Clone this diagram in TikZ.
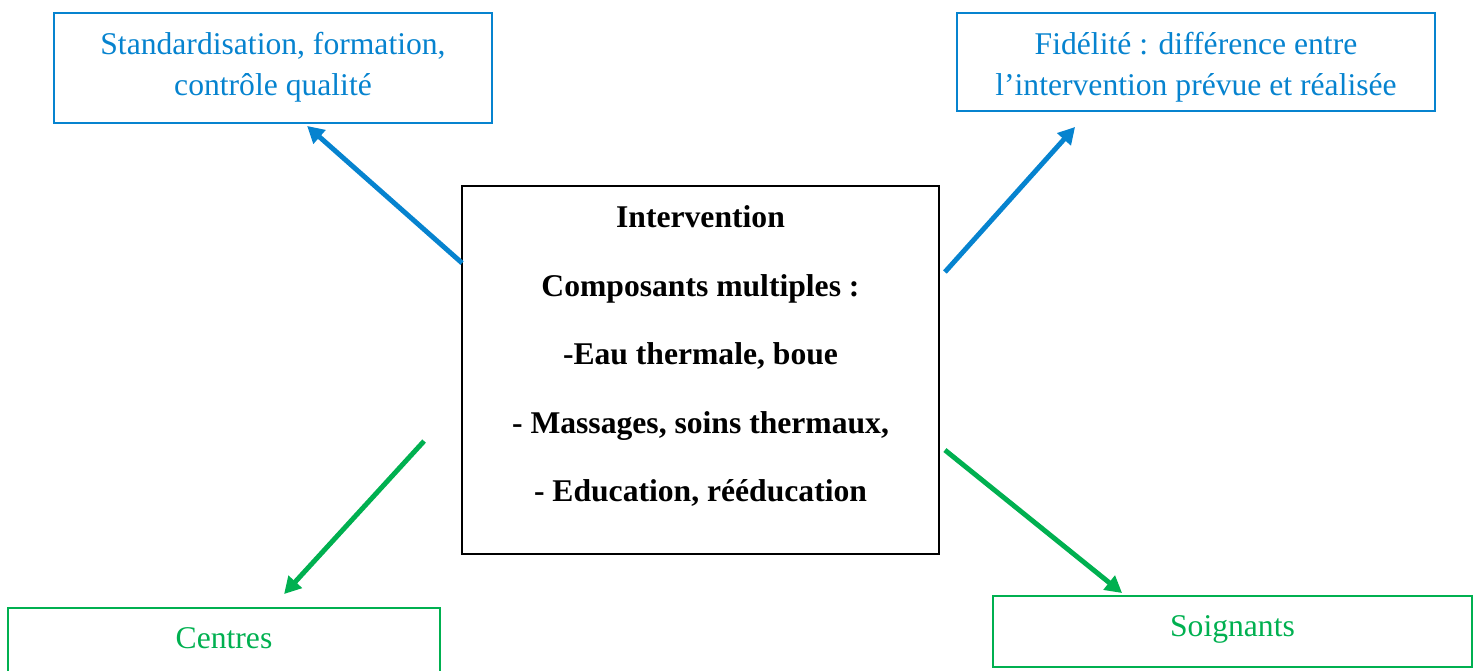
\documentclass[tikz,border=0pt]{standalone}
\usepackage{fontspec}
\setmainfont{Liberation Serif}
\usetikzlibrary{arrows.meta}
\definecolor{bleu}{HTML}{0683CF}
\definecolor{vert}{HTML}{00B050}
\tikzset{
	boite/.style={draw=#1, line width=1.1pt, inner sep=0pt},
	texte/.style={align=center, inner sep=0pt, text=#1, font=\fontsize{18}{23.2}\selectfont},
	fleche/.style={draw=#1, line width=2.8pt, -{Triangle[length=9.5pt,width=10pt]}}
}

\begin{document}
\begin{tikzpicture}[x=0.02cm, y=-0.02cm]
	\clip (0,0) rectangle (1480,671);
	% boites du haut
	\node[boite=bleu, minimum width=8.76cm, minimum height=2.2cm] (std) at (273,68) {};
	\node[texte=bleu] (stdtxt) at (273,67.5) {Standardisation, formation,\\contrôle qualité};
	\node[boite=bleu, minimum width=9.56cm, minimum height=1.96cm] (fid) at (1196,62) {};
	\node[texte=bleu] (fidtxt) at (1196,67.5) {Fidélité : différence entre\\l’intervention prévue et réalisée};
	% intervention
	\node[boite=black, minimum width=9.54cm, minimum height=7.36cm] (main) at (700.5,370) {};
	\node[texte=black, font=\bfseries\fontsize{18}{39}\selectfont] (maintxt) at (700.5,356)
		{Intervention\\Composants multiples :\\-Eau thermale, boue\\- Massages, soins thermaux,\\- Education, rééducation};
	% boites du bas
	\node[boite=vert, minimum width=8.64cm, minimum height=3cm] (centres) at (224,683) {};
	\node[texte=vert] (centrestxt) at (224,638.5) {Centres};
	\node[boite=vert, minimum width=9.58cm, minimum height=1.42cm] (soin) at (1232.5,631.5) {};
	\node[texte=vert] (sointxt) at (1232.5,629.5) {Soignants};
	% fleches
	\draw[fleche=bleu] ([shift={(1,78)}]main.north west) -- ([shift={(254,2)}]std.south west);
	\draw[fleche=bleu] ([shift={(5,87)}]main.north east) -- ([shift={(119,15)}]fid.south west);
	\draw[fleche=vert] ([shift={(-37,256)}]main.north west) -- ([shift={(277,-13)}]centres.north west);
	\draw[fleche=vert] ([shift={(5,265)}]main.north east) -- ([shift={(130,-2)}]soin.north west);
\end{tikzpicture}
\end{document}
